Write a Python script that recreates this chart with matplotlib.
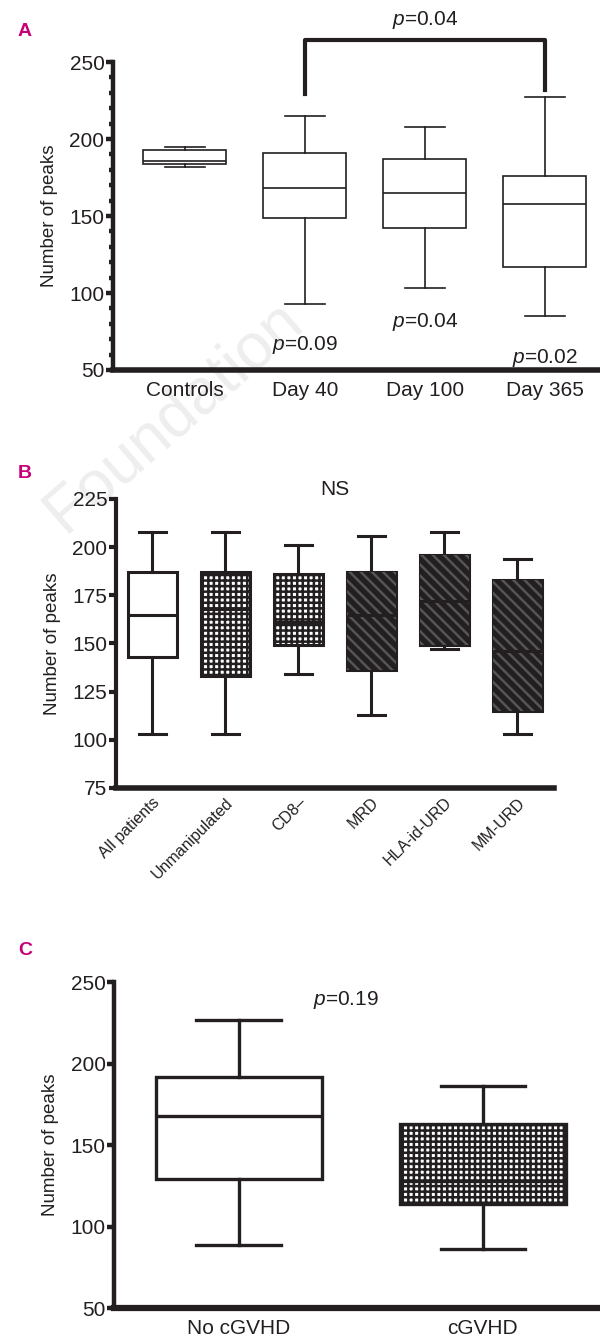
import matplotlib
matplotlib.use("Agg")
import matplotlib.pyplot as plt
from matplotlib.patches import PathPatch
from matplotlib.ticker import MultipleLocator

plt.rcParams['font.family'] = ['Liberation Sans', 'DejaVu Sans']
plt.rcParams['mathtext.fontset'] = 'custom'
plt.rcParams['mathtext.it'] = 'Liberation Sans:italic'
plt.rcParams['mathtext.rm'] = 'Liberation Sans'
plt.rcParams['hatch.linewidth'] = 1.8

# ---- Panel A: time points ----
a_labels = ["Controls", "Day 40", "Day 100", "Day 365"]
a_whislo = [182, 93, 103, 85]
a_q1 = [184, 149, 142, 117]
a_med = [186, 168, 165, 158]
a_q3 = [193, 191, 187, 176]
a_whishi = [195, 215, 208, 227]
a_pvals = ["0.09", "0.04", "0.02"]
a_pval_y = [66, 81, 58]
a_bracket_p = "0.04"

# ---- Panel B: donor type ----
b_labels = ["All patients", "Unmanipulated", "CD8\u2013", "MRD", "HLA-id-URD", "MM-URD"]
b_whislo = [103, 103, 134, 113, 147, 103]
b_q1 = [143, 133, 149, 136, 149, 115]
b_med = [165, 168, 161, 165, 172, 146]
b_q3 = [187, 187, 186, 187, 196, 183]
b_whishi = [208, 208, 201, 206, 208, 194]
b_fill = ["plain", "check", "check", "dark", "dark", "dark"]

# ---- Panel C: cGVHD ----
c_labels = ["No cGVHD", "cGVHD"]
c_whislo = [89, 86]
c_q1 = [129, 114]
c_med = [168, 128]
c_q3 = [192, 163]
c_whishi = [227, 186]
c_fill = ["plain", "check"]
c_pval = "0.19"

PANEL_COLOR = "#c8007a"
INK = "#231f20"


def stats(labels, lo, q1, med, q3, hi):
    out = []
    for i in range(len(labels)):
        out.append(dict(label=labels[i], whislo=lo[i], q1=q1[i], med=med[i],
                        q3=q3[i], whishi=hi[i], fliers=[]))
    return out


def draw_boxes(ax, st, lw, width, capw, fills=None):
    res = ax.bxp(st, positions=range(1, len(st) + 1), widths=width,
                 showfliers=False, patch_artist=True, capwidths=capw,
                 boxprops=dict(facecolor="white", edgecolor=INK, linewidth=lw),
                 whiskerprops=dict(color=INK, linewidth=lw),
                 capprops=dict(color=INK, linewidth=lw),
                 medianprops=dict(color=INK, linewidth=lw))
    for m in res["medians"]:
        m.set_zorder(4)
    if fills is None:
        return res
    for box, f in zip(res["boxes"], fills):
        if f == "check":
            box.set_facecolor("white")
            over = PathPatch(box.get_path(), transform=box.get_transform(),
                             facecolor="none", edgecolor=INK, linewidth=0,
                             hatch="+++", zorder=3)
            ax.add_patch(over)
        elif f == "dark":
            box.set_facecolor(INK)
            over = PathPatch(box.get_path(), transform=box.get_transform(),
                             facecolor="none", edgecolor="#555555", linewidth=0,
                             hatch="\\\\\\", zorder=3)
            ax.add_patch(over)
    return res


def style_axis(ax, lw_left, lw_bottom, fs):
    ax.spines["top"].set_visible(False)
    ax.spines["right"].set_visible(False)
    ax.spines["left"].set_linewidth(lw_left)
    ax.spines["bottom"].set_linewidth(lw_bottom)
    ax.spines["left"].set_color(INK)
    ax.spines["bottom"].set_color(INK)
    ax.tick_params(axis="y", length=5, width=lw_left, color=INK, labelsize=fs, pad=1)
    ax.tick_params(axis="x", length=0, labelsize=fs, pad=8)
    ax.set_ylabel("Number of peaks", fontsize=13.5, color=INK, labelpad=8)
    for lab in ax.get_xticklabels() + ax.get_yticklabels():
        lab.set_color(INK)


fig = plt.figure(figsize=(6, 13.43), dpi=100)

# faint watermark behind the panels
fig.text(0.29, 0.69, "Foundation", fontsize=46, color="#eeeeee", rotation=41,
         ha="center", va="center", zorder=-5)

# Panel A
axA = fig.add_axes([0.188, 0.7245, 0.812, 0.2293])
axA.patch.set_alpha(0)
draw_boxes(axA, stats(a_labels, a_whislo, a_q1, a_med, a_q3, a_whishi), 1.2, 0.69, 0.33)
axA.set_xlim(0.4, 4.46)
axA.set_ylim(50, 250)
axA.set_yticks([50, 100, 150, 200, 250])
axA.yaxis.set_minor_locator(MultipleLocator(10))
style_axis(axA, 3.2, 4.0, 15)
axA.tick_params(axis="y", which="minor", length=3, width=3.2, color=INK)
for i, (p, y) in enumerate(zip(a_pvals, a_pval_y)):
    axA.text(i + 2, y, r"$\it{p}$=" + p, fontsize=15, ha="center", va="center", color=INK)
axA.plot([2, 2, 4, 4], [229, 264, 264, 232], color=INK, lw=3, clip_on=False,
         solid_joinstyle="round")
axA.text(3, 277, r"$\it{p}$=" + a_bracket_p, fontsize=15, ha="center", va="center",
         color=INK, clip_on=False)
fig.text(0.03, 0.973, "A", fontsize=14, fontweight="bold", color=PANEL_COLOR)

# Panel B
axB = fig.add_axes([0.193, 0.4133, 0.73, 0.2152])
axB.patch.set_alpha(0)
draw_boxes(axB, stats(b_labels, b_whislo, b_q1, b_med, b_q3, b_whishi), 2.2, 0.67, 0.37,
           fills=b_fill)
axB.set_xlim(0.5, 6.5)
axB.set_ylim(75, 225)
axB.set_yticks([75, 100, 125, 150, 175, 200, 225])
style_axis(axB, 3.0, 4.0, 15)
axB.tick_params(axis="x", labelsize=11.5, pad=5)
axB.set_xticks(range(1, 7))
axB.set_xticklabels(b_labels, rotation=45, ha="right", rotation_mode="anchor")
axB.text(3.5, 230, "NS", fontsize=15, ha="center", va="center", color=INK)
fig.text(0.03, 0.644, "B", fontsize=14, fontweight="bold", color=PANEL_COLOR)

# Panel C
axC = fig.add_axes([0.19, 0.026, 0.81, 0.2427])
axC.patch.set_alpha(0)
draw_boxes(axC, stats(c_labels, c_whislo, c_q1, c_med, c_q3, c_whishi), 2.4, 0.68, 0.345,
           fills=c_fill)
axC.set_xlim(0.49, 2.48)
axC.set_ylim(50, 250)
axC.set_yticks([50, 100, 150, 200, 250])
style_axis(axC, 3.2, 4.5, 15)
axC.text(1.44, 239, r"$\it{p}$=" + c_pval, fontsize=15, ha="center", va="center", color=INK)
fig.text(0.03, 0.289, "C", fontsize=14, fontweight="bold", color=PANEL_COLOR)

fig.savefig("out.png", dpi=100)
